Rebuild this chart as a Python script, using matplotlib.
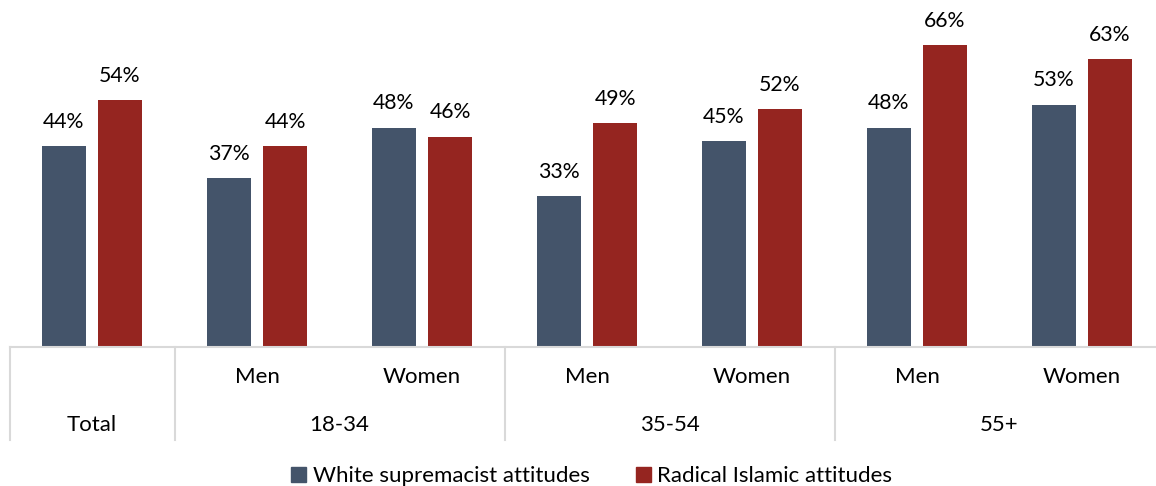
import numpy as np
import matplotlib.pyplot as plt
from matplotlib.patches import Patch

plt.rcParams['font.family'] = ['Lato', 'DejaVu Sans']

subgroups = ["", "Men", "Women", "Men", "Women", "Men", "Women"]
age_groups = ["Total", "18-34", "35-54", "55+"]
group_spans = [(0, 1), (1, 3), (3, 5), (5, 7)]
white_sup = [44, 37, 48, 33, 45, 48, 53]
radical_isl = [54, 44, 46, 49, 52, 66, 63]

BLUE = "#44546A"
RED = "#952520"
GRID = "#D9D9D9"

fig = plt.figure(figsize=(11.56, 4.86), dpi=100)
# the last category runs a little past the right edge of the figure
ax = fig.add_axes([9.5 / 1156, 1 - 347 / 486, 1155 / 1156, 320 / 486])

x = np.arange(len(white_sup))
w = 0.267
off = 0.17
b1 = ax.bar(x - off, white_sup, w, color=BLUE)
b2 = ax.bar(x + off, radical_isl, w, color=RED)

for bars, vals in ((b1, white_sup), (b2, radical_isl)):
    for r, v in zip(bars, vals):
        ax.text(r.get_x() + r.get_width() / 2, v + 5.3, f"{v}%",
                ha="center", va="center", fontsize=15.3, clip_on=False)

ax.set_xlim(-0.5, len(x) - 0.5)
ax.set_ylim(0, 70)
ax.set_xticks([])
ax.set_yticks([])
for s in ("top", "right", "left"):
    ax.spines[s].set_visible(False)
ax.spines["bottom"].set_color(GRID)
ax.spines["bottom"].set_linewidth(1.5)

# two-level category axis drawn below the plot
tr = ax.get_xaxis_transform()
for xi, lab in zip(x, subgroups):
    ax.text(xi, -30 / 320, lab, transform=tr, ha="center", va="center", fontsize=16)
for (a, b), lab in zip(group_spans, age_groups):
    ax.text((a + b - 1) / 2, -78 / 320, lab, transform=tr, ha="center", va="center", fontsize=16)
    ax.plot([a - 0.5, a - 0.5], [0, -93 / 320], transform=tr, color=GRID, lw=1.5, clip_on=False)

handles = [Patch(color=BLUE), Patch(color=RED)]
fig.legend(handles, ["White supremacist attitudes", "Radical Islamic attitudes"],
           loc="center", bbox_to_anchor=(0.512, 1 - 476 / 486), ncol=2, frameon=False,
           fontsize=16, handlelength=0.65, handleheight=0.65, handletextpad=0.3,
           columnspacing=2.1)

fig.savefig("out.png", dpi=100)
